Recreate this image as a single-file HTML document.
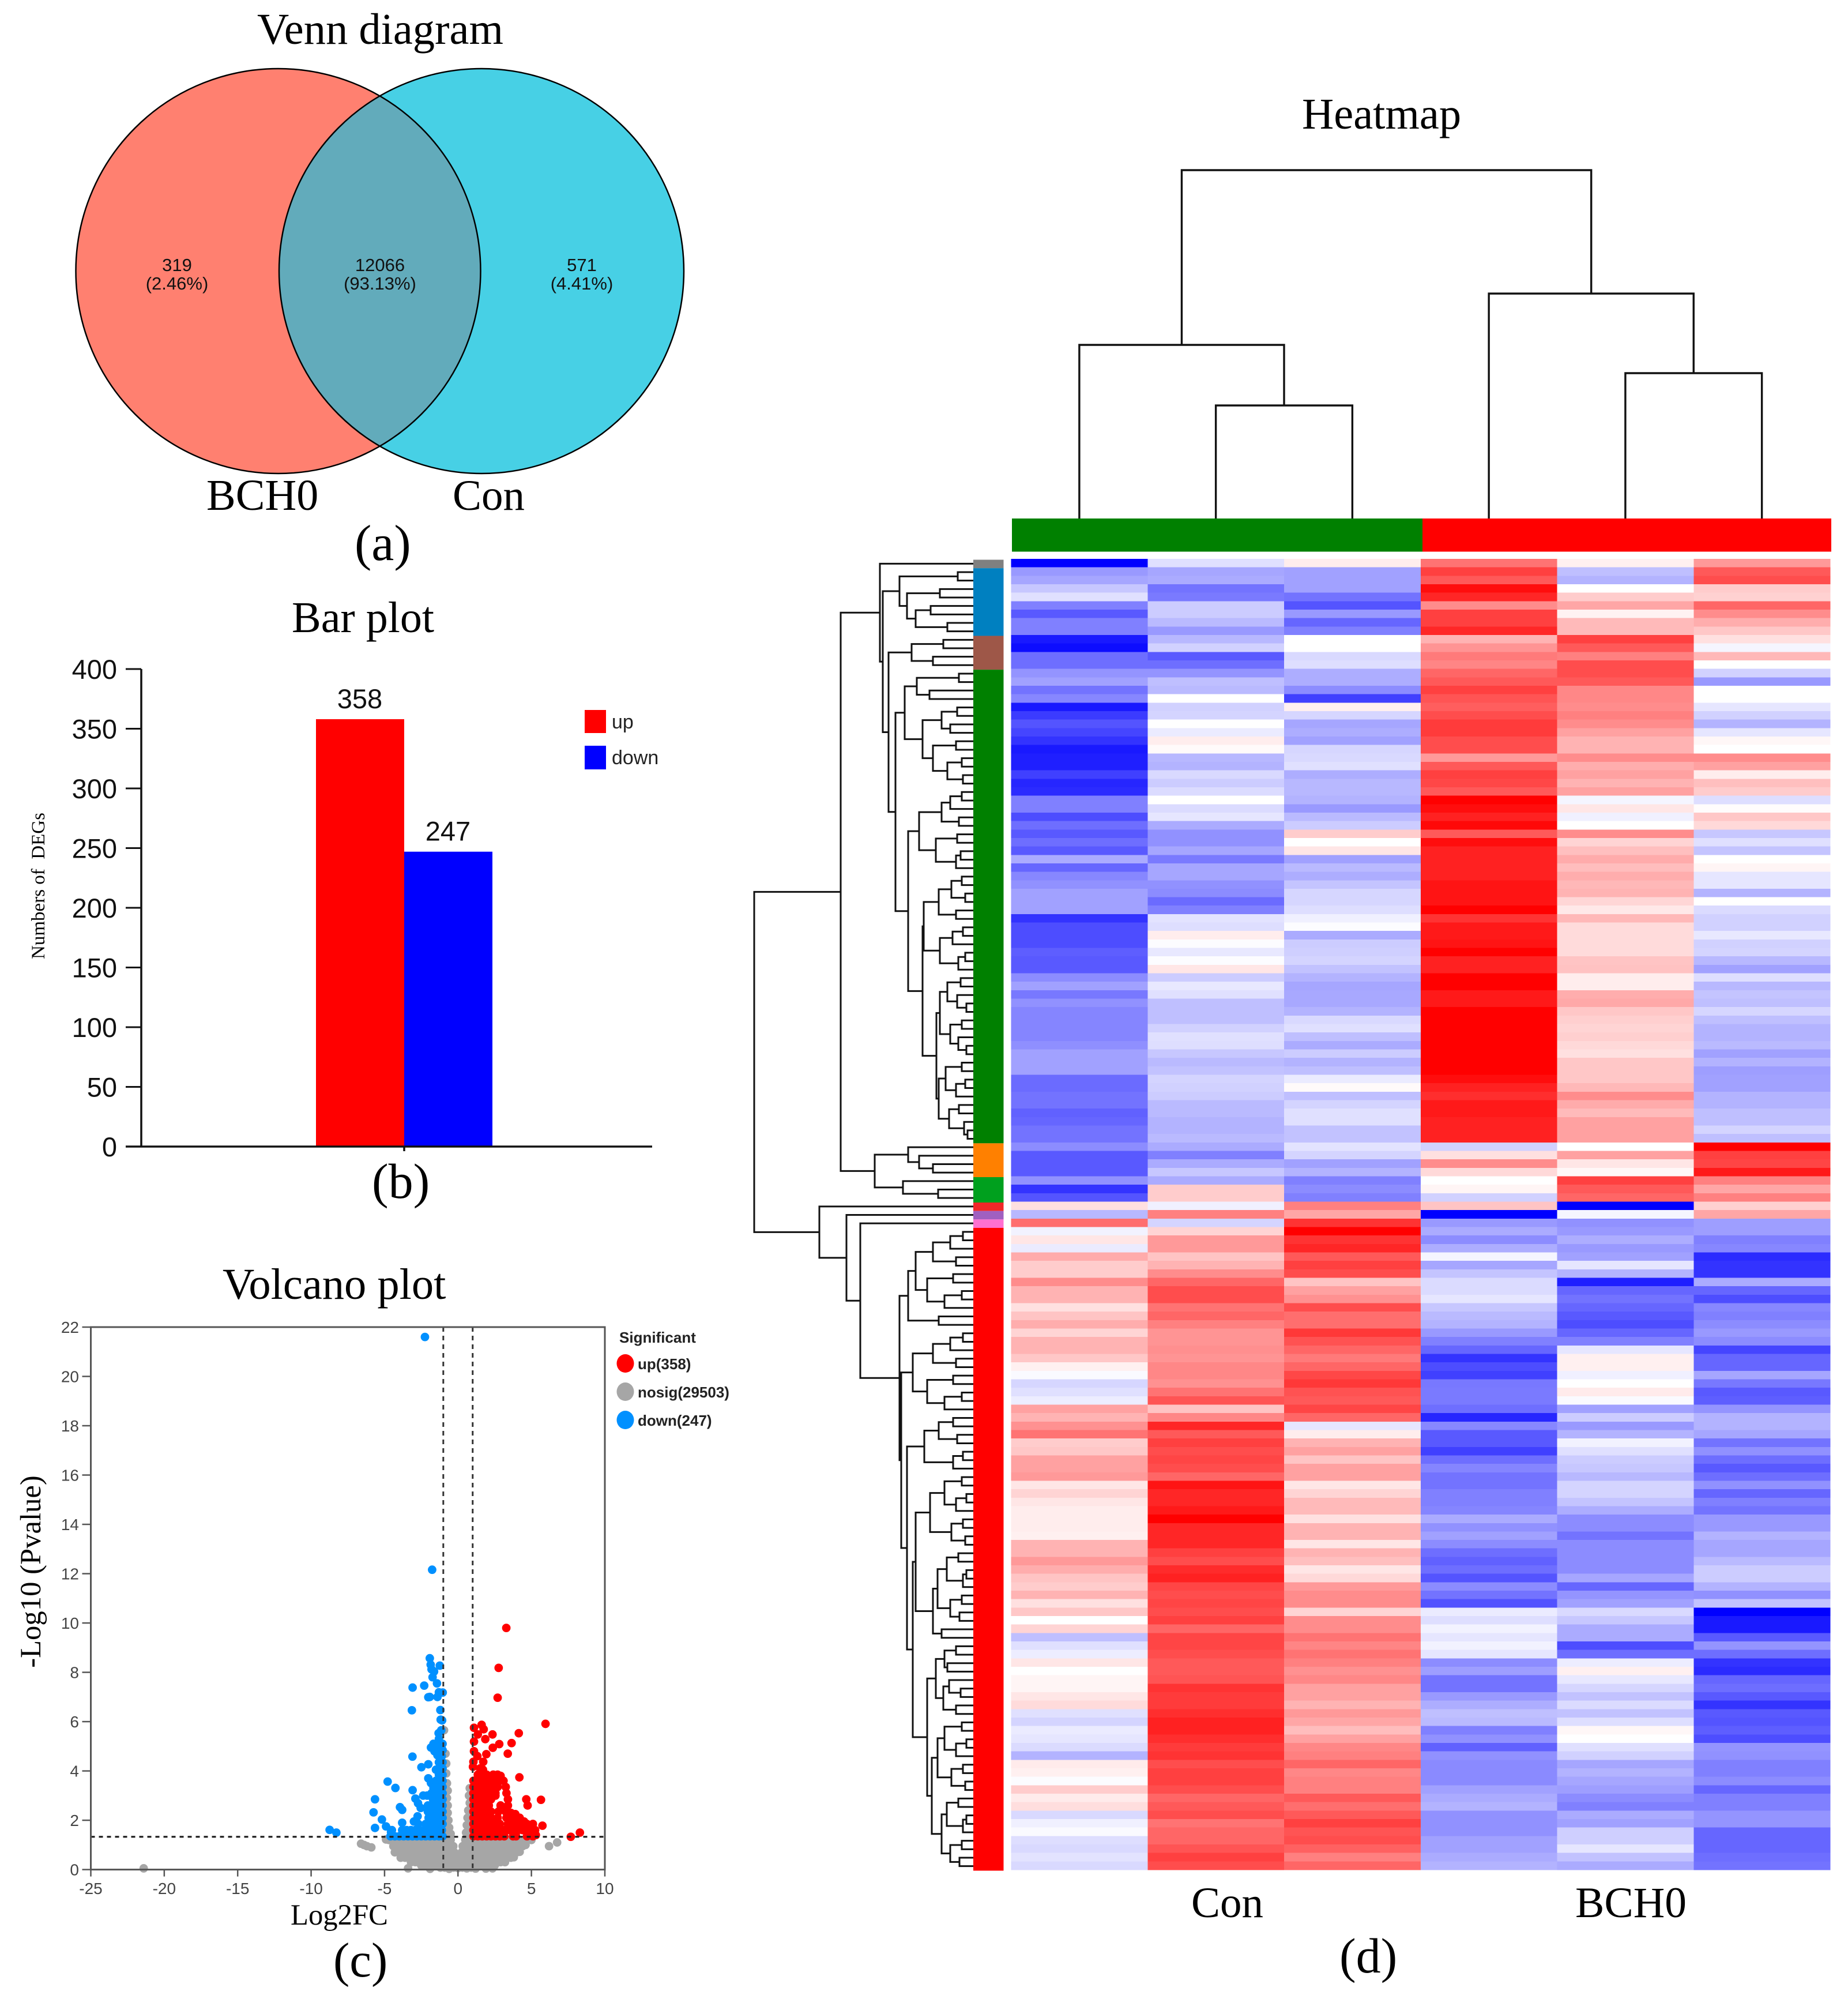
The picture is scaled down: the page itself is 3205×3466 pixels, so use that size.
<!DOCTYPE html>
<html lang="en">
<head>
<meta charset="utf-8">
<title>Venn, bar, volcano and heatmap figure</title>
<style>
html,body{margin:0;padding:0;background:#fff;}
svg{display:block;}
.serif{font-family:"Liberation Serif",serif;fill:#000;}
.sans{font-family:"Liberation Sans",sans-serif;}
</style>
</head>
<body>
<svg id="fig" xmlns="http://www.w3.org/2000/svg" width="3205" height="3466" viewBox="0 0 3205 3466">
<rect x="0" y="0" width="3205" height="3466" fill="#fff"/>

<!-- (a) Venn -->
<g>
  <text class="serif" x="446" y="76" font-size="76.5">Venn diagram</text>
  <defs><clipPath id="venn-clip"><circle cx="482.5" cy="470" r="351"/></clipPath></defs>
  <circle cx="482.5" cy="470" r="351" fill="#FF8070"/>
  <circle cx="835" cy="470" r="351" fill="#47D0E5"/>
  <circle cx="835" cy="470" r="351" fill="#62ABBB" clip-path="url(#venn-clip)"/>
  <circle cx="482.5" cy="470" r="351" fill="none" stroke="#000" stroke-width="2.5"/>
  <circle cx="835" cy="470" r="351" fill="none" stroke="#000" stroke-width="2.5"/>
  <g class="sans" font-size="31" text-anchor="middle" fill="#111">
    <text x="307" y="470">319</text>
    <text x="307" y="502">(2.46%)</text>
    <text x="659" y="470">12066</text>
    <text x="659" y="502">(93.13%)</text>
    <text x="1009" y="470">571</text>
    <text x="1009" y="502">(4.41%)</text>
  </g>
  <text class="serif" x="358" y="884" font-size="76">BCH0</text>
  <text class="serif" x="785" y="884" font-size="75">Con</text>
  <text class="serif" x="615" y="971" font-size="88">(a)</text>
</g>

<!-- (b) Bar -->
<g id="bar-panel">
  <text class="serif" x="506" y="1096" font-size="76">Bar plot</text>
  <text class="serif" transform="translate(77,1536) rotate(-90)" text-anchor="middle" font-size="33" xml:space="preserve" fill="#222">Numbers of  DEGs</text>
  <g id="bar-marks"></g>
  <g id="bar-axis"></g>
  <rect x="1014" y="1231" width="37" height="40" fill="#f00"/>
  <text class="sans" x="1061" y="1263" font-size="34" fill="#222">up</text>
  <rect x="1014" y="1293" width="37" height="41" fill="#00f"/>
  <text class="sans" x="1061" y="1325" font-size="34" fill="#222">down</text>
  <text class="serif" x="645" y="2077" font-size="86">(b)</text>
</g>

<!-- (c) Volcano -->
<g id="volcano-panel">
  <text class="serif" x="386" y="2252" font-size="76.5">Volcano plot</text>
  <g id="volcano-points"></g>
  <g id="volcano-axis"></g>
  <text class="serif" x="504" y="3337" font-size="50.7">Log2FC</text>
  <text class="serif" transform="translate(70,2725) rotate(-90)" text-anchor="middle" font-size="50.7">-Log10 (Pvalue)</text>
  <text class="sans" x="1074" y="2328" font-size="26" font-weight="bold" fill="#222">Significant</text>
  <ellipse cx="1084.5" cy="2364" rx="15" ry="16" fill="#f00"/>
  <text class="sans" x="1106" y="2374" font-size="26" font-weight="bold" fill="#222">up(358)</text>
  <ellipse cx="1084.5" cy="2413" rx="15" ry="16" fill="#a6a6a6"/>
  <text class="sans" x="1106" y="2423" font-size="26" font-weight="bold" fill="#222">nosig(29503)</text>
  <ellipse cx="1084.5" cy="2462" rx="15" ry="16" fill="#0090ff"/>
  <text class="sans" x="1106" y="2472" font-size="26" font-weight="bold" fill="#222">down(247)</text>
  <text class="serif" x="578" y="3427" font-size="85">(c)</text>
</g>

<!-- (d) Heatmap -->
<g id="heat-panel">
  <text class="serif" x="2258" y="223" font-size="76.5">Heatmap</text>
  <g id="col-dendrogram" fill="none" stroke="#111" stroke-width="3.4"></g>
  <rect x="1755" y="899" width="712" height="57.5" fill="#008000"/>
  <rect x="2467" y="899" width="709" height="57.5" fill="#f00"/>
  <g id="row-dendrogram" fill="none" stroke="#111" stroke-width="3"></g>
  <g id="row-clusters"></g>
  <g id="heat-cells" shape-rendering="crispEdges"></g>
  <text class="serif" x="2066" y="3324" font-size="75">Con</text>
  <text class="serif" x="2732" y="3324" font-size="75.5">BCH0</text>
  <text class="serif" x="2323" y="3420" font-size="86">(d)</text>
</g>
</svg>

<script>
/* ---------- bar plot data ---------- */
const barCategories = ['up', 'down'];
const barValues = [358, 247];
const barColors = ['#ff0000', '#0000ff'];
const barTicks = [0, 50, 100, 150, 200, 250, 300, 350, 400];

/* ---------- volcano data: [log2FC, -log10 p] ---------- */
const volcanoXTicks = [-25, -20, -15, -10, -5, 0, 5, 10];
const volcanoYTicks = [0, 2, 4, 6, 8, 10, 12, 14, 16, 18, 20, 22];
const volcanoFcCutoffs = [-1, 1];
const volcanoPCutoff = 1.33;
const nosigPoints = [
[-21.4,.05],[-6.6,1.05],[-6.4,1],[-6.2,.95],[-5.9,.9],[6.2,.95],[6.75,1.1],[-3.4,.05],[-1.9,.03],[-.6,.03],[.6,.05],[1.2,.04],[1.9,.04],[2.35,.05],
[-4.9,1.22],[-4.7,1.2],[-4.4,1.2],[-4.1,1.2],[-3.8,1.2],[-3.5,1.2],[-3.2,1.2],[-2.9,1.2],[-2.6,1.2],[-2.3,1.2],[-2,1.2],[-1.7,1.2],[-1.4,1.2],[-1.1,1.2],[-.8,1.2],[-.5,1.2],[.5,1.2],[.8,1.2],[1.1,1.2],[1.4,1.2],[1.7,1.2],[2,1.2],[2.3,1.2],[2.6,1.2],[2.9,1.2],[3.2,1.2],[3.5,1.2],[3.8,1.2],[4.1,1.2],[4.4,1.2],[4.7,1.2],[5,1.2],
[-4.4,.95],[-4.1,.95],[-3.8,.95],[-3.5,.95],[-3.2,.95],[-2.9,.95],[-2.6,.95],[-2.3,.95],[-2,.95],[-1.7,.95],[-1.4,.95],[-1.1,.95],[-.8,.95],[-.5,.95],[-.32,.95],[.32,.95],[.5,.95],[.8,.95],[1.1,.95],[1.4,.95],[1.7,.95],[2,.95],[2.3,.95],[2.6,.95],[2.9,.95],[3.2,.95],[3.5,.95],[3.8,.95],[4.1,.95],[4.4,.95],[4.6,1],
[-4.3,.7],[-4,.7],[-3.7,.7],[-3.4,.7],[-3.1,.7],[-2.8,.7],[-2.5,.7],[-2.2,.7],[-1.9,.7],[-1.6,.7],[-1.3,.7],[-1,.7],[-.7,.7],[-.45,.7],[-.25,.7],[.25,.7],[.45,.7],[.7,.7],[1,.7],[1.3,.7],[1.6,.7],[1.9,.7],[2.2,.7],[2.5,.7],[2.8,.7],[3.1,.7],[3.4,.7],[3.7,.7],[4,.7],[4.2,.72],
[-3.9,.48],[-3.6,.48],[-3.3,.48],[-3,.48],[-2.7,.48],[-2.4,.48],[-2.1,.48],[-1.8,.48],[-1.5,.48],[-1.2,.48],[-.9,.48],[-.6,.48],[-.35,.48],[-.17,.48],[.17,.48],[.35,.48],[.6,.48],[.9,.48],[1.2,.48],[1.5,.48],[1.8,.48],[2.1,.48],[2.4,.48],[2.7,.48],[3,.48],[3.3,.48],[3.6,.48],[3.8,.5],
[-3.2,.3],[-2.9,.3],[-2.6,.3],[-2.3,.3],[-2,.3],[-1.7,.3],[-1.4,.3],[-1.1,.3],[-.8,.3],[-.5,.3],[-.25,.3],[-.08,.3],[.08,.3],[.25,.3],[.5,.3],[.8,.3],[1.1,.3],[1.4,.3],[1.7,.3],[2,.3],[2.3,.3],[2.6,.3],[2.9,.3],[3.2,.3],
[-2.5,.17],[-2.2,.17],[-1.9,.17],[-1.6,.17],[-1.3,.17],[-1,.17],[-.7,.17],[-.4,.17],[-.1,.17],[.1,.17],[.4,.17],[.7,.17],[1,.17],[1.3,.17],[1.6,.17],[1.9,.17],[2.2,.17],[2.5,.17],
[-1.2,.08],[-.9,.08],[-.6,.08],[-.3,.08],[0,.06],[.3,.08],[.6,.08],[.9,.08],[1.2,.08],
[-.95,5.65],[-.85,4.7],[-.8,4.3],[-.8,3.9],[-.75,3.5],[-.7,3.2],[-.75,2.9],[-.7,2.6],[-.7,2.3],[-.65,2],[-.85,2],[-.6,1.7],[-.8,1.6],[-.5,1.45],[-.75,1.45],
[.8,3.3],[.75,3],[.8,2.7],[.7,2.4],[.65,2.1],[.85,2.1],[.6,1.8],[.85,1.8],[.55,1.5],[.8,1.5]
];
const downPoints = [
[-2.25,21.6],[-1.76,12.16],[-1.92,8.57],[-1.86,8.31],[-1.24,8.27],[-1.8,8.12],[-1.63,8.03],[-1.73,7.8],[-1.43,7.55],[-2.3,7.46],[-3.09,7.38],[-1.04,7.18],[-1.3,7.19],[-2.02,6.99],[-1.92,7],[-1.4,7],[-1.2,6.47],[-3.14,6.46],[-1.18,6.08],[-1.08,6.05],[-1.14,5.65],[-1.32,5.53],[-1.3,5.3],[-1.67,5.1],[-1.4,5.03],[-1.05,5.1],[-1.84,4.95],[-1.6,4.8],
[-8.74,1.61],[-8.28,1.5],[-5.65,2.85],[-5.75,2.32],[-5.65,1.69],[-5.18,2.03],[-4.79,3.57],[-4.26,3.31],[-3.95,2.53],[-3.8,2.42],[-3.09,3.22],[-3.1,4.58],[-2.49,4.15],[-2.02,4.27],[-4.9,1.75],[-4.56,1.52],
[-4.6,1.35],[-4.3,1.35],[-4,1.35],[-3.7,1.35],[-3.4,1.35],[-3.1,1.35],[-2.8,1.35],[-2.5,1.35],[-2.2,1.35],[-1.9,1.35],[-1.6,1.35],[-1.3,1.35],[-1.05,1.35],
[-4.5,1.6],[-3.8,1.6],[-3.5,1.6],[-3.2,1.6],[-2.9,1.6],[-2.6,1.6],[-2.3,1.6],[-2,1.6],[-1.7,1.6],[-1.4,1.6],[-1.1,1.6],
[-3.8,1.9],[-3,1.95],[-2.7,1.85],[-2.2,1.85],[-1.9,1.85],[-1.6,1.85],[-1.3,1.85],[-1.05,1.85],
[-2.75,2.16],[-2,2.1],[-1.75,2.1],[-1.5,2.1],[-1.25,2.1],[-1.05,2.1],
[-2.9,2.88],[-2.72,2.69],[-2.54,2.5],[-2.37,3],[-2.02,3.7],[-1.84,3.51],[-1.67,3.31],
[-2.05,2.35],[-1.8,2.35],[-1.55,2.35],[-1.3,2.35],[-1.05,2.35],[-2.05,2.6],[-1.8,2.6],[-1.55,2.6],[-1.3,2.6],[-1.05,2.6],[-1.7,2.85],[-1.55,2.85],[-1.3,2.85],[-1.05,2.85],[-2.1,3],[-1.8,3.1],[-1.55,3.1],[-1.3,3.1],[-1.05,3.1],
[-1.55,3.35],[-1.3,3.35],[-1.05,3.35],[-1.5,3.6],[-1.3,3.6],[-1.05,3.6],[-1.3,3.85],[-1.05,3.85],[-1.5,4.05],[-1.3,4.1],[-1.05,4.1],[-1.3,4.35],[-1.05,4.35],[-1.4,4.64],[-1.1,4.6],[-1.05,4.85]
];
const upPoints = [
[3.29,9.8],[2.77,8.18],[2.7,6.97],[5.96,5.91],[4.14,5.53],[1.61,5.87],[1.75,5.69],[1.09,5.75],[1.35,5.48],[2.35,5.48],[1.86,5.29],[1.09,5.19],[2.81,5.09],[3.65,5.13],[2.37,4.94],[3.39,4.7],[1.93,4.68],[1.09,4.8],[1.32,4.6],[1.05,4.37],[1.02,4.17],[1.72,4.37],[4.18,3.74],[4.65,2.85],[4.74,2.6],[5.65,2.83],[5.75,1.78],[7.68,1.33],[8.3,1.5],
[1.05,1.35],[1.35,1.35],[1.65,1.35],[1.95,1.35],[2.25,1.35],[2.55,1.35],[2.85,1.35],[3.15,1.35],[3.75,1.35],[3.95,1.35],[4.7,1.35],[5.1,1.35],[5.3,1.4],
[1.05,1.6],[1.35,1.6],[1.65,1.6],[1.95,1.6],[2.25,1.6],[2.55,1.6],[2.85,1.6],[3.15,1.6],[3.5,1.6],[3.8,1.6],[4.1,1.6],[4.4,1.6],[4.7,1.6],[5,1.6],[5.25,1.6],
[1.05,1.85],[1.35,1.85],[1.65,1.85],[1.95,1.85],[2.25,1.85],[2.55,1.85],[2.85,1.85],[3.4,1.85],[3.7,1.85],[4,1.85],[4.4,1.85],[4.7,1.85],[5.1,1.85],
[1.05,2.1],[1.35,2.1],[1.65,2.1],[1.95,2.1],[2.25,2.1],[2.7,2.1],[3.3,2.1],[3.6,2.1],[3.9,2.1],[4.2,2.1],[4.5,1.95],
[1.05,2.35],[1.35,2.35],[1.65,2.35],[1.95,2.35],[2.25,2.35],[2.75,2.35],[3.25,2.35],[3.6,2.3],[3.9,2.25],
[1.05,2.6],[1.35,2.6],[1.65,2.6],[1.95,2.6],[2.1,2.6],[2.9,2.6],[3.4,2.6],
[1.05,2.85],[1.35,2.85],[1.65,2.85],[1.95,2.85],[2.25,2.85],[3.4,2.85],[2.55,3],
[1.05,3.1],[1.35,3.1],[1.65,3.1],[1.95,3.1],[2.25,3.1],[2.55,3.1],[3.3,3.1],
[1.05,3.35],[1.35,3.35],[1.65,3.35],[1.95,3.35],[2.25,3.35],[2.5,3.35],[2.7,3.35],[3.25,3.35],
[1.05,3.6],[1.35,3.6],[1.65,3.6],[1.95,3.6],[2.25,3.6],[2.55,3.6],[2.85,3.6],[3.1,3.6],
[1.35,3.85],[1.65,3.85],[1.95,3.85],[2.4,3.85],[2.7,3.85],[2.9,3.8],
[1.5,4.1],[1.7,4.05]
];

/* ---------- heatmap data ---------- */
const sampleGroups = ['Con', 'Con', 'Con', 'BCH0', 'BCH0', 'BCH0'];
const clusterSizes = [1, 8, 4, 56, 4, 3, 1, 1, 1, 76];
const clusterColors = ['#808080', '#0080C0', '#9E5748', '#008000', '#FF8000', '#00A01E', '#F02828', '#A060C0', '#FF70D0', '#FF0000'];
/* each row: z-score-like value for the six samples, -10 (blue) .. 10 (red) */
const heatRows = [
[-10,-1.2,.7,5.5,.6,4],[-4,-3.5,-3.7,7.5,-2.5,6.5],[-3.5,-3.3,-3.7,6.5,-3,7],[-2.2,-5.5,-3.7,9.5,0,2],[-1.2,-5.2,-5.5,8.5,2,1.8],[-5,-2,-6.7,4.5,3.5,6],[-6.5,-2,-4,7.5,.5,4.5],[-5,-2.7,-6,7.5,2.7,3.2],[-5,-4,-5,8.5,2.7,2.2],[-9,-2.8,0,3,7.5,1.2],
[-9.5,-1.8,0,4.2,6.5,-.4],[-5.7,-6.5,-1.5,5.2,5,2.8],[-5.7,-5.7,-1.3,4.8,7,0],[-4.2,-4.2,-3.2,6,7,-1.8],[-3.7,-2.5,-3.2,6.5,6.5,-4],[-5.5,-2.7,-4.5,7.5,4.7,0],[-4.7,0,-7.5,6.7,4.7,0],[-9,-1.8,.6,6.3,4.5,-1],[-7.7,-1.7,-1.6,7,5,-1.8],[-6.7,0,-3.5,7.7,4.5,-3],
[-7.3,-.8,-3.2,7.7,3.7,-1],[-8,.7,-3.7,7,3,.3],[-9,.2,-1.6,7,3,0],[-8.8,-2.8,-1.5,4,4.5,4.5],[-8.8,-3,-1.2,6.5,3.2,3.7],[-7.5,-1.5,-3.2,7.5,3.7,.7],[-8.5,-2,-2.8,7.2,3,2.5],[-8.3,-1.4,-2.8,6.5,3.7,2],[-5,0,-3,10,-.4,-1.3],[-5,-1.4,-4,9.5,1,.1],
[-7,-1,-2.7,8.7,-.6,2.2],[-5.7,-3.3,-2,9.7,0,1.5],[-6.5,-4.3,2,6.5,4.5,-2.2],[-5.7,-4.3,0,9.5,1.7,-1.2],[-6.5,-3.5,1,8.7,2.5,-2.3],[-3.3,-5.2,-3.7,8.7,3.3,0],[-6,-3.5,-2.7,8.7,2.6,.4],[-4.7,-3.5,-3.2,8.7,3.2,-1],[-4.3,-4.3,-2.3,9.2,2.8,-1],[-3.7,-4.5,-1.6,9.2,3,-3],
[-3.7,-5.8,-1.6,9.2,1.6,0],[-3.7,-5,-1.3,10,.9,-1.4],[-8,-1.1,-.6,8,2.8,-1.8],[-7,-1.3,-.1,9,1.4,-1.8],[-7,.7,-3.3,9,1.4,-.9],[-7,-.1,-2,9.2,1.4,-1.8],[-6.3,-.9,-1.9,10,1.4,-1.7],[-6.5,-.1,-1.7,8.7,2.3,-2.8],[-6.5,1,-2.4,8.7,2.4,-3.7],[-4.5,-2,-3,10,.7,-1.3],
[-3.7,-.9,-3.5,10,.7,-2.8],[-5.3,-1.2,-3.4,9,3.2,-2.3],[-4.3,-2.5,-3.4,9,3.4,-2.5],[-4.8,-2.5,-3,10,2.2,-1.6],[-4.8,-2.5,-1.5,10,1.9,-2.5],[-4.8,-1.8,-1.2,10,1.7,-3],[-4.8,-1.2,-2.5,10,1.9,-3],[-4.4,-1.3,-3.3,10,1.5,-2.7],[-3.7,-2.2,-2,10,1.2,-3.7],[-3.7,-2.7,-3,10,2.2,-3],
[-3.7,-2.4,-2.5,10,2.2,-3.8],[-5.8,-1.7,-.8,9.5,2.2,-3.7],[-5.8,-1.8,.2,8.7,2.8,-3.7],[-5.5,-2,-2.5,8.2,4.5,-3],[-5.5,-2.7,-1.7,9,3.3,-3],[-6.2,-2.7,-1.2,9,2.7,-2.5],[-6,-3,-1.2,8.7,3.7,-2.5],[-5.5,-3,-2.4,8.7,3.7,-1.7],[-5.5,-2.7,-2.4,8.7,3.7,-2.5],[-4.5,-3.3,-1.1,-1.8,0,10],
[-6.5,-5,-1.7,1.2,3.7,7.5],[-6.5,-3.3,-3.7,4.5,1,7.3],[-6.5,-2.2,-3,1.5,.3,9],[-4.3,-3.3,-5,0,7.5,5],[-8,2,-4.5,.4,6.5,3.5],[-6.7,2,-5,-1.8,6,5],[1.2,-.6,5,2.3,-10,1.8],[-2.8,5,3.5,-10,-.4,3.5],[5.7,-1.7,8,-4,-4.3,-3.8],[-.5,1.7,10,-3.3,-4,-3.8],
[1,4,8,-4.5,-3.2,-5],[-.8,4,8.5,-3.2,-4,-4.7],[3.3,2.3,6.5,-.4,-3.7,-8.3],[2,3,7.5,-3.5,-1,-8],[2,4.5,7,-2.3,-3,-8],[4.5,6,2.3,-1.4,-8.8,-3.3],[3,7,3.7,-1.4,-6,-6],[3,7,4.3,-1,-5.5,-7],[1.2,5.5,7,-2.2,-6,-4.7],[2.3,6,5.7,-2.7,-6.5,-5],
[3.2,5,5.7,-3,-7,-4.5],[1.7,4.2,7.8,-4,-6,-4],[3,4.2,6.8,-5,-5,-4.5],[3,4.4,6,-6,-1,-7.3],[2.2,4.2,5.2,-8,.6,-6],[.6,4.7,6,-7,.6,-6],[-.2,4.7,7.2,-7.5,-.6,-3.5],[-1.6,4.3,7.8,-5.3,0,-5.3],[-1.2,5.5,6.8,-5.2,.8,-6.5],[-.7,6.7,6.5,-5.2,-.2,-6.3],
[3.7,2.3,7.3,-5.7,-3.7,-4.2],[3,4.7,6,-8.5,-2,-3],[4.3,8.5,-1,-4.7,-4,-3],[5.5,6.5,.7,-6.5,-3,-3.5],[2,7.5,3,-6.5,-.5,-5.5],[2.2,7,3.7,-7.5,-1.2,-4.3],[3.7,7.3,2.3,-5.7,-2,-5.7],[3.7,7,3.7,-4.8,-2.2,-6.5],[4,6,3.7,-5.5,-2.8,-5.7],[1,9.2,1,-5.5,-1.7,-4.3],
[1.7,8.5,1.7,-5,-1.7,-6],[1,8.5,2.7,-5,-2.3,-5],[.7,9,2.7,-4.8,-3.2,-5.5],[.7,10,1.2,-3.3,-4.5,-4],[.7,8.5,3,-4.3,-4.5,-4],[.6,8.5,3,-3.7,-5.5,-3],[3,8.5,1,-4.5,-4.5,-3.5],[3,7.5,3,-5.7,-4.5,-3.5],[4,7,2.5,-6.2,-4.5,-2.7],[3.2,8.3,1,-5.7,-4.5,-2],
[2.3,8.7,1.5,-6.7,-3.5,-2],[2,7.3,4,-4.5,-6,-3],[3,7,4.5,-5.5,-4.2,-4.3],[1.2,7.3,4.5,-6.8,-3.7,-2.4],[2.2,7,1.7,-.8,-1.5,-10],[0,7.5,4.5,-1.3,-2.2,-9],[1.7,6,4.5,-.5,-3.3,-9],[-2.5,7.3,5.5,-1,-3.3,-6.5],[-1.2,7.3,4.8,-.5,-7,-4.2],[-.7,7,5.5,-1,-5.7,-5.7],
[1,6.5,5,-4.5,-.7,-8],[0,6.5,4.3,-3.8,.6,-8.3],[.4,6.7,4.7,-5.5,-.9,-6],[.4,8,3.7,-5.5,-1.6,-5.7],[1,7.7,3.7,-4,-2.4,-6.5],[1.4,7.7,3,-3.2,-1.4,-8],[-1.2,8.2,4,-2.5,-2.4,-6.5],[-1.7,8.7,3.5,-2.7,-1.3,-6.7],[-.8,8.7,2.6,-5,.3,-6.3],[-1,8.2,3.7,-4.3,0,-7],
[-1.4,7.7,4.7,-6.2,-1.2,-4.2],[-3,8,5,-4.3,-1.8,-4.3],[.8,7,6,-4.6,-3.5,-5],[.6,7.5,4.7,-4.6,-3,-5],[-.1,7.5,5,-4.6,-3.5,-4.5],[2,7,5,-3.7,-3.8,-6],[.8,6,6.5,-3.3,-4.5,-5],[1.3,6.5,5.7,-3,-5,-5],[-1.5,7,6.5,-4.3,-3.3,-4.2],[-.6,5.5,7.5,-4.3,-3.7,-4.2],
[-.2,6,6.7,-4.3,-1.9,-6],[-1.3,6,7,-3.7,-1.9,-6],[-1.5,6.7,6.2,-3.7,-1,-6],[-1.1,7.5,5,-3.3,-2.4,-5.7],[-1.5,7,6,-3,-3.3,-5.5]
];
/* column tree: merges of leaves (>=0) or earlier merges (-1,-2,...): [left,right,height above bar] */
const colMerges = [[1, 2, 196], [4, 5, 252], [0, -1, 301], [3, -2, 390], [-3, -4, 604]];
/* row tree: [merge distance, child, child], 0 = leaf in display order */
const rowTree = [380,
 [230,
  [162, 0,
   [157,
    [128,[27,0,0],[115,[58,0,0],[100,[74,0,0],[45,0,0]]]],
    [147,
     [107,[52,0,0],[70,0,0]],
     [135,
      [119,[98,[25,0,0],[76,0,0]],[88,[55,[28,0,0],[40,0,0]],[70,[30,0,0],[45,[20,0,0],[18,0,0]]]]],
      [113,
       [94,[55,[40,[20,0,0],0],[25,0,0]],[65,[28,0,0],[30,[22,0,0],0]]],
       [88,
        [86,[60,[38,[20,0,0],[14,0,0]],[30,0,0]],[58,[36,[18,0,0],0],[26,[14,0,0],0]]],
        [64,
         [58,[45,[22,0,0],[28,0,[12,0,0]]],[40,[20,0,0],[26,0,[12,0,0]]]],
         [60,[48,[20,0,0],[30,[14,0,0],0]],[42,[25,0,0],[16,0,[10,0,0]]]]
        ]
       ]
      ]
     ]
    ]
   ]
  ],
  [171,[113,0,[94,0,[70,0,0]]],[122,0,[61,0,0]]]
 ],
 [267, 0,
  [220, 0,
   [196, 0,
    [128,
     [113,
      [100,[70,[40,[18,0,0],0],[30,0,0]],[80,[35,0,0],[50,[20,0,0],0]]],
      [60,0,0]
     ],
     [125,
      [105,[70,[40,[18,0,0],0],[30,0,0]],[80,[35,0,0],[50,[20,0,0],0]]],
      [115,
       [85,[60,[35,0,0],[28,0,0]],[35,[18,0,0],0]],
       [105,
        [100,
         [75,[50,[20,0,0],[30,[12,0,0],0]],[38,[18,0,0],[14,0,0]]],
         [70,[62,[46,[26,0,0],[18,[12,0,0],0]],[40,[20,0,0],[24,0,0]]],[55,0,0]]
        ],
        [80,
         [65,[50,[30,0,0],[45,0,0]],[52,[42,0,[22,0,0]],[30,0,0]]],
         [72,[62,[50,[20,0,0],[30,[12,0,0],0]],[38,[18,0,0],[14,0,0]]],[55,[46,[26,0,0],[18,[12,0,0],0]],[40,[20,0,0],[24,0,0]]]]
        ]
       ]
      ]
     ]
    ]
   ]
  ]
 ]
];

const NS = 'http://www.w3.org/2000/svg';
function mk(parentId, tag, props, text) {
  const el = document.createElementNS(NS, tag);
  for (const k in props) el.setAttribute(k, props[k]);
  if (text !== undefined) el.textContent = text;
  document.getElementById(parentId).appendChild(el);
  return el;
}

/* ---------- bar plot ---------- */
const barY = v => 1988 - v * (828 / 400);
const barX = i => 548 + i * 153;
barValues.forEach((v, i) => {
  const bar = mk('bar-marks', 'rect', {x: barX(i), y: barY(v), width: 153, height: 1988 - barY(v), fill: barColors[i]});
  
  
  const lab = mk('bar-marks', 'text', {x: barX(i) + 76, y: barY(v) - 19, 'text-anchor': 'middle', 'font-size': 47, 'font-family': '"Liberation Sans",sans-serif', fill: '#111'}, String(v));
  
  
});
const barYLine = mk('bar-axis', 'path', {d: 'M245 1160V1988', stroke: '#111', 'stroke-width': 3.5, fill: 'none'});


const barXLine = mk('bar-axis', 'path', {d: 'M218 1988H1131M701 1988V1996', stroke: '#111', 'stroke-width': 3.5, fill: 'none'});


barTicks.forEach(t => {
  const tick = mk('bar-axis', 'path', {d: 'M218 ' + barY(t) + 'H245', stroke: '#111', 'stroke-width': 3, fill: 'none'});
  
  
  const lab = mk('bar-axis', 'text', {x: 203, y: barY(t) + 17, 'text-anchor': 'end', 'font-size': 47, 'font-family': '"Liberation Sans",sans-serif', fill: '#111'}, String(t));
  
  
});

/* ---------- volcano ---------- */
const vx = v => 157.5 + (v + 25) * (891.5 / 35);
const vy = v => 3241.6 - v * (940.6 / 22);
function drawPoints(points, color, name) {
  points.forEach(p => {
    const c = mk('volcano-points', 'circle', {cx: vx(p[0]), cy: vy(p[1]), r: 7.4, fill: color});
    
    
  });
}
drawPoints(nosigPoints, '#a6a6a6', 'point-nosig');
drawPoints(downPoints, '#0090ff', 'point-down');
drawPoints(upPoints, '#ff0000', 'point-up');
volcanoFcCutoffs.forEach(c => {
  const l = mk('volcano-axis', 'line', {x1: vx(c), x2: vx(c), y1: vy(22), y2: vy(0), stroke: '#333', 'stroke-width': 3, 'stroke-dasharray': '8 7'});
  
  
});
const pLine = mk('volcano-axis', 'line', {x1: vx(-25), x2: vx(10), y1: vy(volcanoPCutoff), y2: vy(volcanoPCutoff), stroke: '#222', 'stroke-width': 3.2, 'stroke-dasharray': '7 7'});


const vBox = mk('volcano-axis', 'rect', {x: vx(-25), y: vy(22), width: vx(10) - vx(-25), height: vy(0) - vy(22), fill: 'none', stroke: '#555', 'stroke-width': 3});


volcanoXTicks.forEach(t => {
  const tick = mk('volcano-axis', 'line', {x1: vx(t), x2: vx(t), y1: vy(0), y2: vy(0) + 12, stroke: '#555', 'stroke-width': 2.5});
  
  
  const lab = mk('volcano-axis', 'text', {x: vx(t), y: 3284, 'text-anchor': 'middle', 'font-size': 28, 'font-family': '"Liberation Sans",sans-serif', fill: '#444'}, String(t));
  
  
});
volcanoYTicks.forEach(t => {
  const tick = mk('volcano-axis', 'line', {x1: vx(-25) - 15, x2: vx(-25), y1: vy(t), y2: vy(t), stroke: '#555', 'stroke-width': 2.5});
  
  
  const lab = mk('volcano-axis', 'text', {x: 137, y: vy(t) + 10, 'text-anchor': 'end', 'font-size': 28, 'font-family': '"Liberation Sans",sans-serif', fill: '#444'}, String(t));
  
  
});

/* ---------- heatmap ---------- */
const heatLeft = 1753.5, colW = 236.75, heatTop = 969, rowH = 2273 / 155;
const hx = c => heatLeft + c * colW;
const hy = r => heatTop + r * rowH;
function heatColor(v) {
  const f = Math.min(1, Math.abs(v) / 10), g = Math.round(255 * (1 - f));
  return v >= 0 ? 'rgb(255,' + g + ',' + g + ')' : 'rgb(' + g + ',' + g + ',255)';
}
heatRows.forEach((row, r) => {
  row.forEach((v, c) => {
    const cell = mk('heat-cells', 'rect', {x: hx(c), y: hy(r), width: colW + .5, height: rowH + .5, fill: heatColor(v)});
    
    
  });
});
/* row cluster colour bar */
let clusterStart = 0;
clusterSizes.forEach((n, i) => {
  const seg = mk('row-clusters', 'rect', {x: 1688, y: hy(clusterStart) + 1.5, width: 52.5, height: n * rowH, fill: clusterColors[i]});
  
  
  clusterStart += n;
});
/* column dendrogram */
const colNodes = {};
const colBase = 899;
const colCenter = i => hx(i) + colW / 2;
const colPos = ref => ref >= 0 ? {x: colCenter(ref), y: colBase} : colNodes[ref];
colMerges.forEach((m, i) => {
  const a = colPos(m[0]), b = colPos(m[1]), top = colBase - m[2];
  const p = mk('col-dendrogram', 'path', {d: 'M' + a.x + ' ' + a.y + 'V' + top + 'H' + b.x + 'V' + b.y});
  
  
  colNodes[-(i + 1)] = {x: (a.x + b.x) / 2, y: top};
});
/* row dendrogram */
const leafEnd = 1688;
let leafCounter = 0;
function drawRow(node) {
  if (node === 0) {
    const r = leafCounter++;
    return {x: leafEnd, y: hy(r) + rowH / 2 + 1};
  }
  const a = drawRow(node[1]), b = drawRow(node[2]);
  const x = leafEnd - node[0];
  const p = mk('row-dendrogram', 'path', {d: 'M' + a.x + ' ' + a.y + 'H' + x + 'V' + b.y + 'H' + b.x});
  
  
  return {x: x, y: (a.y + b.y) / 2};
}
drawRow(rowTree);
</script>
</body>
</html>
